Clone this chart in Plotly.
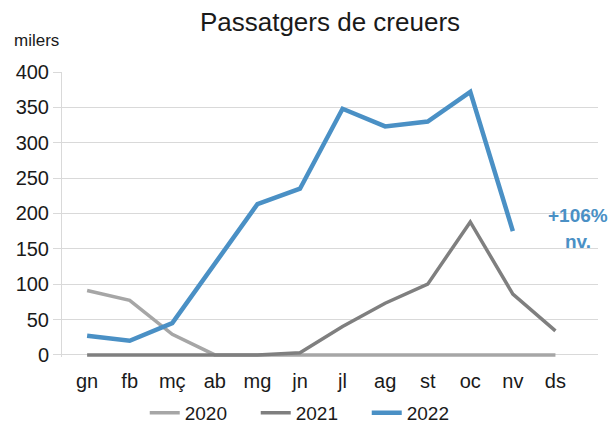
import plotly.graph_objects as go

months = ["gn", "fb", "mç", "ab", "mg", "jn", "jl", "ag", "st", "oc", "nv", "ds"]
y2020 = [91, 77, 29, 0, 0, 0, 0, 0, 0, 0, 0, 0]
y2021 = [0, 0, 0, 0, 0, 3, 40, 73, 100, 188, 86, 34]
y2022 = [27, 20, 45, 130, 213, 235, 348, 323, 330, 372, 175]
series_names = ["2020", "2021", "2022"]
colors = ["#a6a6a6", "#7f7f7f", "#4a90c5"]
widths = [3.5, 3.5, 4.5]

fig = go.Figure()
for name, ys, c, w in zip(series_names, [y2020, y2021, y2022], colors, widths):
    fig.add_trace(go.Scatter(x=months[:len(ys)], y=ys, mode="lines", name=name,
                             line=dict(color=c, width=w)))

fig.update_layout(
    width=611, height=427,
    margin=dict(l=62, r=13, t=72, b=70, autoexpand=False),
    paper_bgcolor="white", plot_bgcolor="white",
    font=dict(family="Liberation Sans, Arial, sans-serif", color="#1a1a1a"),
    title=dict(text="Passatgers de creuers", x=0.5, xref="paper", y=0.948, yref="container",
               yanchor="middle", font=dict(size=26, color="#1a1a1a")),
    showlegend=True,
    legend=dict(orientation="h", x=0.465, xanchor="center", y=0.033, yref="container",
                yanchor="middle", font=dict(size=19, color="#1a1a1a"), tracegroupgap=0,
                entrywidth=66, entrywidthmode="pixels"),
    xaxis=dict(type="category", range=[-0.59, 12.0], showgrid=False, showline=False,
               ticks="", tickfont=dict(size=20), ticklabelstandoff=10, automargin=False),
    yaxis=dict(range=[-3, 400], tickvals=[0, 50, 100, 150, 200, 250, 300, 350, 400],
               showgrid=True, gridcolor="#d9d9d9", gridwidth=1, zeroline=False,
               showline=True, linecolor="#d9d9d9", linewidth=1,
               ticks="outside", ticklen=8, tickcolor="#d9d9d9",
               tickfont=dict(size=20), automargin=False),
    annotations=[
        dict(text="milers", xref="paper", yref="paper", x=-0.0933, y=1.109,
             xanchor="left", yanchor="middle", showarrow=False,
             font=dict(size=17, color="#1a1a1a")),
        dict(text="<b>+106%</b>", xref="x", yref="y", x=11.53, y=197, xanchor="center",
             yanchor="middle", showarrow=False, font=dict(size=19, color="#4a90c5")),
        dict(text="<b>nv.</b>", xref="x", yref="y", x=11.53, y=160, xanchor="center",
             yanchor="middle", showarrow=False, font=dict(size=19, color="#4a90c5")),
    ],
)

fig.write_html("out.html", config={"displayModeBar": False},
               post_script="document.body.style.margin='0';")
